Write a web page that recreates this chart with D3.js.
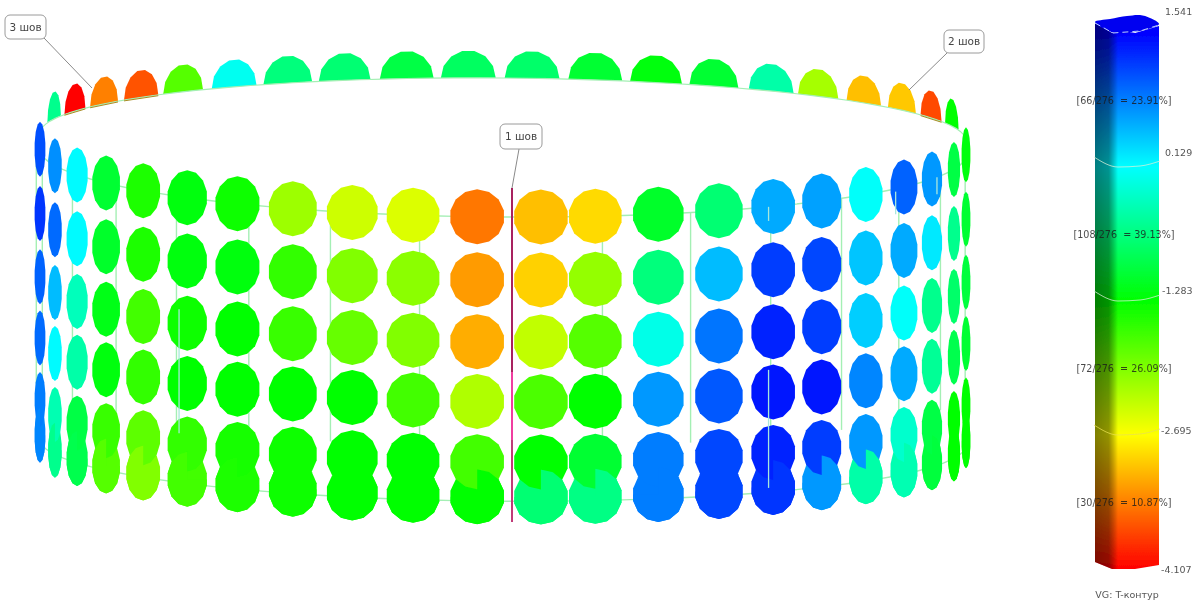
<!DOCTYPE html>
<html><head><meta charset="utf-8">
<style>html,body{margin:0;padding:0;background:#fff}svg{display:block}text{font-family:"DejaVu Sans",sans-serif}</style>
<script src="https://cdn.jsdelivr.net/npm/d3@7/dist/d3.min.js"></script></head><body>
<svg id="c" width="1202" height="604"></svg>
<script>
// column bearings around the tank (deg, 0 = towards viewer)
const columnAngles=[-90,-75.4,-66.9,-59,-51,-43,-35,-27,-19,-11.2,-3.2,4.7,11.5,19.6,27.8,35.7,43.5,51.6,60,67.9,76.9,90];
// ring heights (percent of shell height, top to bottom)
const rowLevels=[0,22.5,44.6,66,87.5,100];
const row1=[1.1,.75,.15,-1.0,-1.45,-1.2,-1.35,-2.15,-2.42,-2.5,-3.45,-3.05,-2.9,-1.05,-.65,.6,.65,.1,1.0,.7,-.9,-1.2];
const row2=[1.25,.95,.15,-1.05,-1.45,-1.2,-1.2,-1.55,-2.0,-2.05,-3.25,-2.95,-2.1,-.6,.5,1.2,1.15,.45,.6,.25,-.5,-1.0];
const row3=[1.0,.5,-.25,-1.15,-1.65,-1.35,-1.3,-1.6,-1.85,-2.0,-3.15,-2.35,-1.75,0,.9,1.35,1.2,.4,.1,-.5,-.7,-.95];
const row4=[.95,.15,-.35,-1.2,-1.55,-1.3,-1.25,-1.3,-1.3,-1.65,-2.25,-1.7,-1.3,.7,1.05,1.4,1.4,.8,.6,-.45,-.85,-1.0];
const row5=[.85,-.3,-.9,-1.6,-1.8,-1.55,-1.4,-1.35,-1.25,-1.3,-1.65,-1.3,-1.0,.85,1.15,1.35,1.2,.7,-.15,-.9,-1.3,-1.3];
const row6=[.8,-.5,-.85,-1.75,-2.0,-1.65,-1.45,-1.35,-1.25,-1.3,-1.3,-.65,-.55,.85,1.15,1.25,.7,-.35,-.3,-.95,-1.25,-1.3];
const rows=[row1,row2,row3,row4,row5,row6];
// far side of the top ring
const backAngles=[-75.8,-67.6,-59.5,-51.4,-43.7,-35.5,-27.7,-20,-12,-4.3,3.6,11.5,19.3,27.1,35.4,42.9,51.2,59.5,67.6,75.8];
const backValues=[-.5,-4.1,-3.4,-3.65,-1.75,.05,-.6,-.65,-.9,-.75,-.7,-1.0,-1.2,-1.0,-.35,-2.2,-3.05,-3.0,-3.7,-1.3];
// mesh meridians
const meridianAngles=[-90,-80.8,-67.3,-56,-44.4,-33,-21.7,-10.3,12.3,23.7,35,46.5,58,69.6,82];
const overlaySegments=[[35,58,100],[35,0,5],[58,1,9],[69.6,0,6],[-44.4,40,84]];
// colour bar
const legendTicks=[1.541,0.129,-1.283,-2.695,-4.107];
const legendTickText=["1.541","0.129","-1.283","-2.695","-4.107"];
const legendStats=["[66/276  = 23.91%]","[108/276  = 39.13%]","[72/276  = 26.09%]","[30/276  = 10.87%]"];
const legendStatsAt=[.835,-.577,-1.989,-3.401];
const legendTitle="VG: T-контур";
const callouts=["1 шов","2 шов","3 шов"];

const svg=d3.select("#c");
const color=d3.scaleLinear().domain([-4.107,-2.695,-1.283,.129,1.541]).range(["#ff0000","#ffff00","#00ff00","#00ffff","#0000ff"]);
const rad=d=>d*Math.PI/180;
const xSin=d3.scaleLinear().domain([-1,1]).range([40,966]);
const centreY=d3.scaleLinear().domain([0,100]).range([152,438]);
const depth=d3.scaleLinear().domain([0,100]).range([65,59]);
const tilt=.006, R=463, cx=503;
const X=a=>xSin(Math.sin(rad(a)));
const Y=(a,l)=>centreY(l)+depth(l)*Math.cos(rad(a))+tilt*(X(a)-cx);
const backY=a=>137-59*Math.cos(rad(a))+.008*(X(a)-cx);

const defs=svg.append("defs");
defs.append("filter").attr("id","soft").attr("x","-5%").attr("y","-5%").attr("width","110%").attr("height","110%")
  .append("feGaussianBlur").attr("stdDeviation",.55);
defs.append("filter").attr("id","softT").append("feGaussianBlur").attr("stdDeviation",.3);
defs.append("clipPath").attr("id","qR").attr("clipPathUnits","objectBoundingBox").append("polygon").attr("points","0,.5 .5,.5 .5,0 1,0 1,1 0,1");
defs.append("clipPath").attr("id","qL").attr("clipPathUnits","objectBoundingBox").append("polygon").attr("points","0,0 .5,0 .5,.5 1,.5 1,1 0,1");

const g=svg.append("g").attr("filter","url(#soft)");
const meshColor="#a4efb4";
const ring=d3.line().x(a=>X(a)).curve(d3.curveLinear);
const arc=d3.range(-90,90.5,3);
// rings
const mesh=g.append("g").attr("fill","none").attr("stroke",meshColor).attr("stroke-width",1.4);
mesh.append("path").attr("d",ring.y(a=>Y(a,0))(arc));
mesh.append("path").attr("d",ring.y(a=>Y(a,101.5))(arc));
mesh.selectAll("line.m").data(meridianAngles).join("line").attr("class","m")
  .attr("x1",a=>X(a)+(X(a)-cx)*.008).attr("x2",a=>X(a)+(X(a)-cx)*.008)
  .attr("y1",a=>Y(a,0)).attr("y2",a=>Y(a,82));

// polygonal dots
const N=14;
function dot(rx,ry){return d3.line()(d3.range(N).map(i=>{const t=2*Math.PI*(i+.5)/N;return [rx*Math.cos(t),ry*Math.sin(t)];}))+"Z";}
function dome(rx,ry,s){const pts=d3.range(0,N/2+1).map(i=>{const t=-Math.PI*i/(N/2);const px=rx*Math.cos(t);return [px,ry*Math.sin(t)+s*px];});
  return d3.line()(pts)+"Z";}
const r=27.5;
const rxOf=a=>Math.max(a>0?4.5:5.5,r*Math.cos(rad(a)));
const cells=rows.flatMap((vals,ri)=>vals.map((v,ci)=>({a:columnAngles[ci],l:rowLevels[ri],v,ri})));
const back=backAngles.map((a,i)=>({a,v:backValues[i]}));
const slopeOf=a=>59*Math.tan(rad(a))/R+.008;
g.append("g").selectAll("path").data(back).join("path")
  .attr("transform",d=>`translate(${X(d.a)},${backY(d.a)})`)
  .attr("d",d=>dome(rxOf(d.a),r,slopeOf(d.a)))
  .attr("fill",d=>color(d.v));
g.append("path").attr("fill","none").attr("stroke",meshColor).attr("stroke-width",1.2).attr("d",ring.y(a=>backY(a))(arc));
// darker scorch line under the hottest far-side dots
g.append("g").attr("stroke","#a88a20").attr("stroke-width",1).selectAll("line").data(back.filter(d=>d.v<-3.3)).join("line")
  .attr("x1",d=>X(d.a)-rxOf(d.a)).attr("x2",d=>X(d.a)+rxOf(d.a))
  .attr("y1",d=>backY(d.a)+1-slopeOf(d.a)*rxOf(d.a)).attr("y2",d=>backY(d.a)+1+slopeOf(d.a)*rxOf(d.a));
const place=s=>s.attr("transform",d=>`translate(${X(d.a)},${Y(d.a,d.l)})`)
  .attr("d",d=>dot(rxOf(d.a),r)).attr("fill",d=>color(d.v));
const order=[5,0,1,2,3,4];
order.forEach(ri=>{g.append("g").selectAll("path").data(cells.filter(c=>c.ri===ri)).join("path").call(place);});
g.append("g").selectAll("path").data(cells.filter(c=>c.ri===5)).join("path")
  .attr("transform",d=>`translate(${X(d.a)},${Y(d.a,d.l)})`)
  .attr("d",d=>dot(rxOf(d.a),r)).attr("fill",d=>color(d.v))
  .attr("clip-path",d=>d.a<-20?"url(#qL)":"url(#qR)");
// pale weld marks on top of the dots
g.append("g").attr("stroke","#a8e8dc").attr("stroke-width",1.3).selectAll("line").data(overlaySegments).join("line")
  .attr("x1",d=>X(d[0])).attr("x2",d=>X(d[0])).attr("y1",d=>Y(d[0],d[1])).attr("y2",d=>Y(d[0],d[2]));

// seam 1 line
const seam=g.append("g").attr("stroke-width",2);
seam.append("line").attr("x1",512).attr("x2",512).attr("y1",188).attr("y2",372).attr("stroke","#a8205f");
seam.append("line").attr("x1",512).attr("x2",512).attr("y1",372).attr("y2",440).attr("stroke","#f03ea0");
seam.append("line").attr("x1",512).attr("x2",512).attr("y1",440).attr("y2",522).attr("stroke","#c03a78");

// callouts
const boxes=[{t:callouts[2],x:5,y:15,w:41,h:24,l:[44,38,92,88]},{t:callouts[1],x:944,y:30,w:40,h:23,l:[947,53,909,90]},{t:callouts[0],x:500,y:124,w:42,h:25,l:[519,149,512,188]}];
const cg=svg.append("g").attr("filter","url(#softT)");
boxes.forEach(b=>{
  cg.append("line").attr("x1",b.l[0]).attr("y1",b.l[1]).attr("x2",b.l[2]).attr("y2",b.l[3]).attr("stroke","#8a8a8a").attr("stroke-width",1);
  cg.append("rect").attr("x",b.x).attr("y",b.y).attr("width",b.w).attr("height",b.h).attr("rx",5).attr("fill","#fff").attr("stroke","#9a9a9a");
  cg.append("text").attr("x",b.x+b.w/2).attr("y",b.y+b.h/2+3.5).attr("text-anchor","middle").attr("font-size",10.5).attr("fill","#444").text(b.t);
});

// colour bar
const bx=[1095,1112,1159], yB=d3.scaleLinear().domain([-4.107,1.541]).range([569,33]);
const grad=defs.append("linearGradient").attr("id","bar").attr("gradientUnits","userSpaceOnUse").attr("x1",0).attr("x2",0).attr("y1",yB(-4.107)).attr("y2",yB(1.541));
d3.range(0,1.001,.25).forEach(o=>{const v=-4.107+o*5.648;grad.append("stop").attr("offset",o).attr("stop-color",color(v));});
const shade=defs.append("linearGradient").attr("id","shade").attr("gradientUnits","userSpaceOnUse").attr("x1",bx[0]).attr("x2",1118).attr("y1",0).attr("y2",0);
[[0,.5],[.6,.42],[.82,.2],[1,0]].forEach(s=>shade.append("stop").attr("offset",s[0]).attr("stop-color","#000").attr("stop-opacity",s[1]));
const lb=svg.append("g").attr("filter","url(#soft)");
const outline=d3.line()([[bx[0],23],[bx[1],33],[1135,33],[bx[2],26],[bx[2],565],[1135,569],[bx[1],569],[bx[0],562]])+"Z";
lb.append("path").attr("d",outline).attr("fill","url(#bar)");
lb.append("path").attr("d",outline).attr("fill","url(#shade)");
lb.append("path").attr("d",d3.line().curve(d3.curveCatmullRomClosed)([[1095,22],[1110,19],[1127,16],[1140,15],[1150,18],[1159,24],[1140,31],[1115,33]])).attr("fill","#0000f0");
lb.append("path").attr("d",d3.line()([[1095,23],[1113,33],[1140,31],[1159,25]])).attr("fill","none").attr("stroke","#bcd0ff").attr("stroke-width",1).attr("stroke-dasharray","6 4");
const bandLine=d3.line().curve(d3.curveMonotoneX);
[.129,-1.283,-2.695].forEach(v=>{const y=yB(v);
  lb.append("path").attr("d",bandLine([[1094,y-10],[1118,y],[1140,y-1],[1160,y-6]])).attr("fill","none")
   .attr("stroke",v<-2?"#e8e050":"#d8f0d8").attr("stroke-width",1).attr("opacity",.75);});
const lt=svg.append("g").attr("filter","url(#softT)");
const tickY=[12,153,291,431,570], tickX=[1165,1165,1162,1161,1161];
lt.selectAll("text.t").data(legendTickText).join("text").attr("class","t").attr("x",(d,i)=>tickX[i]).attr("y",(d,i)=>tickY[i]+3)
  .attr("font-size",9.5).attr("fill","#555").text(d=>d);
lt.selectAll("text.s").data(legendStats).join("text").attr("class","s").attr("x",1124).attr("y",(d,i)=>yB(legendStatsAt[i])+3.5)
  .attr("text-anchor","middle").attr("font-size",9.6).attr("fill","#1a1a1a").attr("opacity",.8).style("white-space","pre").text(d=>d);
lt.append("text").attr("x",1127).attr("y",598).attr("text-anchor","middle").attr("font-size",9.5).attr("fill","#555").text(legendTitle);
</script></body></html>
